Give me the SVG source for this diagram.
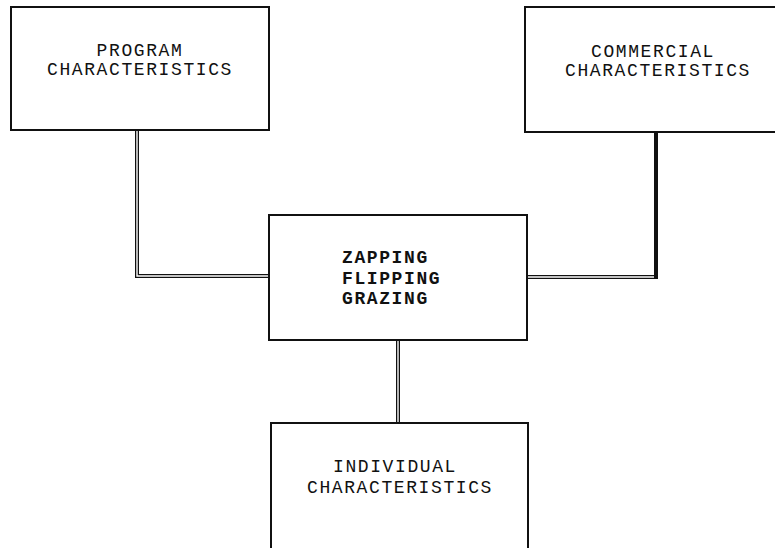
<svg xmlns="http://www.w3.org/2000/svg" width="775" height="548" viewBox="0 0 775 548">
<style>
.box{fill:#fff;stroke:#111;stroke-width:2}
.t{font-family:"Liberation Mono","Courier New",monospace;font-size:18px;letter-spacing:1.6px;fill:#111}
.b{font-family:"Liberation Mono","Courier New",monospace;font-size:18px;font-weight:bold;letter-spacing:1.6px;fill:#111}
.dblo{fill:none;stroke:#111;stroke-width:4}
.dbli{fill:none;stroke:#fff;stroke-width:1.4}
</style>
<rect width="775" height="548" fill="#fff"/>
<g id="connectors">
<path class="dblo" d="M137,131 V276 H269"/>
<path class="dbli" d="M137,131 V276 H269"/>
<path class="dblo" d="M527,277 H656 V133"/>
<path class="dbli" d="M527,277 H654"/>
<path fill="none" stroke="#111" stroke-width="4" d="M656,133 V279"/>
<path class="dblo" d="M398,341 V422"/>
<path class="dbli" d="M398,341 V422"/>
</g>
<g id="program">
<rect class="box" x="11" y="7" width="258" height="123"/>
<text class="t" text-anchor="middle" x="140" y="56">PROGRAM</text>
<text class="t" text-anchor="middle" x="140" y="75">CHARACTERISTICS</text>
</g>
<g id="commercial">
<rect class="box" x="525" y="7" width="260" height="125"/>
<text class="t" text-anchor="middle" x="653" y="57">COMMERCIAL</text>
<text class="t" text-anchor="middle" x="658" y="76">CHARACTERISTICS</text>
</g>
<g id="zapping">
<rect class="box" x="269" y="215" width="258" height="125"/>
<text class="b" x="342" y="263">ZAPPING</text>
<text class="b" x="342" y="284">FLIPPING</text>
<text class="b" x="342" y="304">GRAZING</text>
</g>
<g id="individual">
<rect class="box" x="271" y="423" width="257" height="140"/>
<text class="t" text-anchor="middle" x="395" y="472">INDIVIDUAL</text>
<text class="t" text-anchor="middle" x="400" y="493">CHARACTERISTICS</text>
</g>
</svg>
